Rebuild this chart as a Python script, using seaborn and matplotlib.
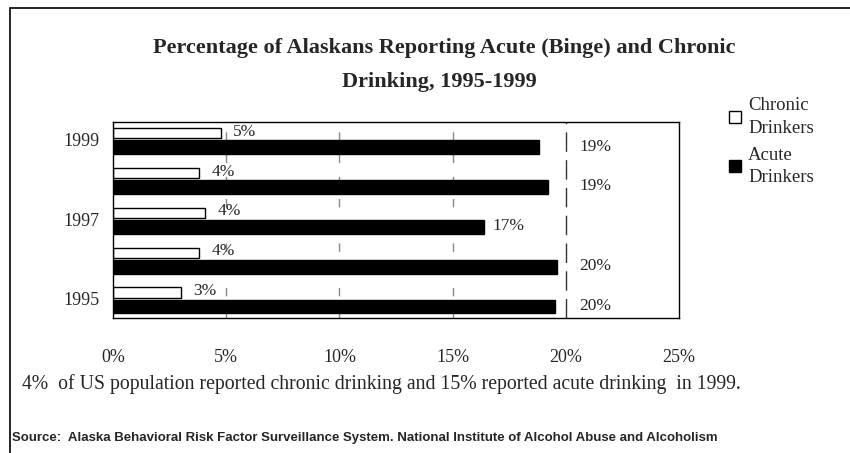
import numpy as np
import pandas as pd
import matplotlib
matplotlib.use('Agg')
import matplotlib.pyplot as plt
import seaborn as sns
from matplotlib.patches import Rectangle
from matplotlib.lines import Line2D

# -------------------------
# Data
# -------------------------
years = ['1999', '1998', '1997', '1996', '1995']
chronic = [4.75, 3.8, 4.05, 3.8, 3.0]
acute = [18.8, 19.2, 16.4, 19.6, 19.5]
chronic_labels = ['5%', '4%', '4%', '4%', '3%']
acute_labels = ['19%', '19%', '17%', '20%', '20%']
shown_years = ['1999', '', '1997', '', '1995']
series = ['Chronic Drinkers', 'Acute Drinkers']

df = pd.DataFrame({
    'Year': years * 2,
    'Value': chronic + acute,
    'Series': [series[0]] * len(years) + [series[1]] * len(years),
})

sns.set_theme(style='white')
plt.rcParams['font.family'] = ['Liberation Serif', 'DejaVu Serif']

fig = plt.figure(figsize=(8.5, 4.53), dpi=100)
ax = fig.add_axes([0.133, 0.298, 0.666, 0.433])

sns.barplot(data=df, y='Year', x='Value', hue='Series', order=years,
            hue_order=series, orient='h', palette=['white', 'black'],
            edgecolor='black', linewidth=1.0, width=0.66, legend=False, ax=ax)

# chronic bars thinner than the acute bars
n = len(years)
for i, p in enumerate(ax.patches[:2 * n]):
    y0, h = p.get_y(), p.get_height()
    if i < n:
        p.set_height(h * 0.78)
        p.set_y(y0 + h * 0.12)
    else:
        p.set_height(h * 1.05)
        p.set_y(y0 + h * 0.05)

ax.set_xlim(0, 25)
ax.set_ylim(4.48, -0.45)
ax.set_xticks([0, 5, 10, 15, 20, 25])
ax.set_xticklabels(['0%', '5%', '10%', '15%', '20%', '25%'], fontsize=13)
ax.set_yticks(range(n))
ax.set_yticklabels(shown_years, fontsize=13)
ax.tick_params(axis='x', pad=22, length=0)
ax.tick_params(axis='y', pad=10, length=0)
ax.set_xlabel('')
ax.set_ylabel('')

for x in [5, 10, 15]:
    ax.axvline(x, color='#888888', linestyle=(0, (6, 10)), linewidth=1.0, zorder=0)
ax.axvline(20, color='#333333', linestyle=(0, (14, 6)), linewidth=1.0, zorder=0)

for s in ax.spines.values():
    s.set_color('black')
    s.set_linewidth(1.0)

# value labels; long acute bars get their label past the 20% line
for i in range(n):
    ax.text(chronic[i] + 0.55, i - 0.2, chronic_labels[i], fontsize=12.5,
            ha='left', va='center')
    lx = acute[i] + 0.35 if acute[i] < 18 else 20.6
    ax.text(lx, i + 0.17, acute_labels[i], fontsize=12.5,
            ha='left', va='center')

# legend
handles = [Line2D([], [], marker='s', linestyle='none', markersize=9,
                  markerfacecolor='white', markeredgecolor='black'),
           Line2D([], [], marker='s', linestyle='none', markersize=9,
                  markerfacecolor='black', markeredgecolor='black')]
leg = fig.legend(handles, ['Chronic\nDrinkers', 'Acute\nDrinkers'], loc='upper left',
                 bbox_to_anchor=(0.858, 0.785), frameon=False, fontsize=13.5,
                 handlelength=0.6, handletextpad=0.4, labelspacing=0.5,
                 borderpad=0, borderaxespad=0)
for t in leg.get_texts():
    t.set_linespacing(1.45)

fig.text(0.523, 0.895, 'Percentage of Alaskans Reporting Acute (Binge) and Chronic',
         ha='center', va='center', fontsize=16, fontweight='bold')
fig.text(0.517, 0.82, 'Drinking, 1995-1999', ha='center', va='center',
         fontsize=16, fontweight='bold')
fig.text(0.026, 0.153, '4%  of US population reported chronic drinking and 15% reported acute drinking  in 1999.',
         ha='left', va='center', fontsize=14.2)
fig.text(0.014, 0.033, 'Source:  Alaska Behavioral Risk Factor Surveillance System. National Institute of Alcohol Abuse and Alcoholism',
         ha='left', va='center', fontsize=9.5, fontweight='bold',
         family=['Liberation Sans Narrow', 'Liberation Sans', 'DejaVu Sans'])

fig.patches.append(Rectangle((0.012, -0.02), 1.0, 1.002, transform=fig.transFigure,
                             fill=False, edgecolor='black', linewidth=1.2))

fig.savefig('out.png', dpi=100, facecolor='white')
